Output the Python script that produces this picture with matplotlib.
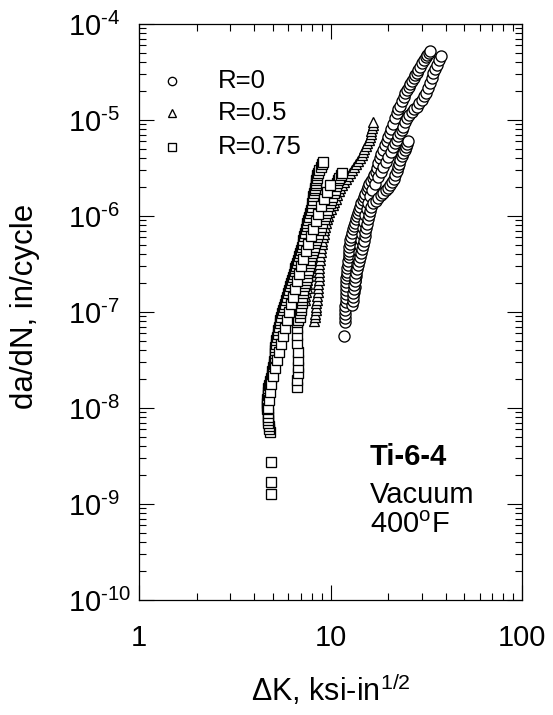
import numpy as np
import matplotlib
matplotlib.use("Agg")
import matplotlib.pyplot as plt
from matplotlib.ticker import FuncFormatter, LogLocator

plt.rcParams["font.family"] = ["Liberation Sans", "DejaVu Sans"]
plt.rcParams["mathtext.fontset"] = "custom"
plt.rcParams["mathtext.rm"] = "Liberation Sans"
plt.rcParams["mathtext.it"] = "Liberation Sans:italic"
plt.rcParams["mathtext.bf"] = "Liberation Sans:bold"

# ---- R = 0 (circles), three specimens ----
dk_r0_a = [11.76, 11.90, 11.88, 11.90, 11.93, 11.90, 11.98, 12.05, 12.02, 12.05, 12.08, 12.05,
           12.12, 12.20, 12.16, 12.20, 12.28, 12.34, 12.42, 12.49, 12.45, 12.49, 12.58, 12.64,
           12.80, 12.95, 13.10, 13.27, 13.42, 13.59, 13.75, 13.92, 14.10, 14.26, 14.50, 14.78,
           14.95, 15.14, 15.42, 15.70, 15.98, 16.27, 16.57, 16.87, 17.18, 17.49, 17.80, 18.14,
           18.45, 18.80, 19.25, 19.72, 20.08, 20.45, 20.82, 21.21, 21.72, 22.25, 22.65, 23.07,
           23.62, 24.20, 24.63, 25.09, 25.55, 26.01, 26.65, 27.29, 27.78, 28.30, 28.80, 29.34,
           30.05, 30.78, 31.34, 31.91, 32.50, 33.08]
da_r0_a = [5.6e-8, 7.9e-8, 8.7e-8, 9.5e-8, 1.05e-7, 1.16e-7, 1.28e-7, 1.40e-7, 1.54e-7, 1.69e-7,
           1.87e-7, 2.05e-7, 2.24e-7, 2.43e-7, 2.64e-7, 2.87e-7, 3.12e-7, 3.40e-7, 3.70e-7, 4.02e-7,
           4.37e-7, 4.75e-7, 5.17e-7, 5.62e-7, 6.10e-7, 6.65e-7, 7.25e-7, 7.87e-7, 8.55e-7, 9.31e-7,
           1.00e-6, 1.07e-6, 1.15e-6, 1.24e-6, 1.35e-6, 1.47e-6, 1.58e-6, 1.69e-6, 1.85e-6, 2.01e-6,
           2.16e-6, 2.32e-6, 2.50e-6, 2.67e-6, 2.90e-6, 3.16e-6, 3.55e-6, 4.02e-6, 4.42e-6, 4.87e-6,
           5.45e-6, 6.04e-6, 6.65e-6, 7.33e-6, 8.15e-6, 9.08e-6, 1.04e-5, 1.18e-5, 1.29e-5, 1.40e-5,
           1.56e-5, 1.74e-5, 1.89e-5, 2.05e-5, 2.21e-5, 2.37e-5, 2.55e-5, 2.74e-5, 2.91e-5, 3.09e-5,
           3.32e-5, 3.56e-5, 3.88e-5, 4.22e-5, 4.48e-5, 4.75e-5, 5.00e-5, 5.23e-5]

dk_r0_b = [12.95, 13.03, 13.11, 13.27, 13.43, 13.50, 13.59, 13.67, 13.75, 13.92, 14.09, 14.26,
           14.43, 14.60, 14.78, 14.96, 15.14, 15.42, 15.70, 16.08, 16.47, 17.08, 17.70, 18.25,
           18.80, 19.38, 19.96, 20.58, 21.21, 21.72, 22.25, 22.65, 23.07, 23.50, 23.91, 24.49,
           25.09, 25.85, 26.65, 27.45, 28.30, 29.15, 30.05, 30.78, 31.53, 32.30, 33.08, 33.70,
           34.30, 35.12, 35.98, 36.90, 37.80]
da_r0_b = [1.18e-7, 1.30e-7, 1.43e-7, 1.62e-7, 1.82e-7, 2.08e-7, 2.37e-7, 2.74e-7, 3.16e-7, 3.65e-7,
           4.22e-7, 4.87e-7, 5.62e-7, 6.50e-7, 7.50e-7, 8.75e-7, 1.02e-6, 1.18e-6, 1.37e-6, 1.60e-6,
           1.87e-6, 2.18e-6, 2.55e-6, 2.87e-6, 3.24e-6, 3.65e-6, 4.12e-6, 4.64e-6, 5.23e-6, 5.70e-6,
           6.19e-6, 6.75e-6, 7.33e-6, 7.87e-6, 8.45e-6, 9.45e-6, 1.05e-5, 1.13e-5, 1.21e-5, 1.29e-5,
           1.37e-5, 1.49e-5, 1.62e-5, 1.76e-5, 1.91e-5, 2.15e-5, 2.43e-5, 2.75e-5, 3.09e-5, 3.40e-5,
           3.74e-5, 4.20e-5, 4.64e-5]

dk_r0_c = [13.11, 13.19, 13.27, 13.35, 13.43, 13.59, 13.75, 13.92, 14.09, 14.26, 14.43, 14.60,
           14.78, 14.96, 15.14, 15.23, 15.32, 15.50, 15.70, 15.89, 16.08, 16.37, 16.67, 17.18,
           17.70, 18.25, 18.80, 19.38, 19.96, 20.45, 20.95, 21.33, 21.72, 22.12, 22.52, 22.80,
           23.07, 23.50, 23.91, 24.35, 24.79, 25.09, 25.39]
da_r0_c = [1.58e-7, 1.74e-7, 1.91e-7, 2.10e-7, 2.32e-7, 2.55e-7, 2.81e-7, 3.09e-7, 3.40e-7, 3.75e-7,
           4.12e-7, 4.55e-7, 4.99e-7, 5.55e-7, 6.19e-7, 6.80e-7, 7.50e-7, 8.35e-7, 9.31e-7, 1.03e-6,
           1.13e-6, 1.25e-6, 1.37e-6, 1.45e-6, 1.54e-6, 1.64e-6, 1.74e-6, 1.85e-6, 1.96e-6, 2.10e-6,
           2.26e-6, 2.45e-6, 2.67e-6, 2.95e-6, 3.24e-6, 3.52e-6, 3.83e-6, 4.17e-6, 4.53e-6, 4.87e-6,
           5.23e-6, 5.62e-6, 6.04e-6]

# ---- R = 0.5 (triangles), two specimens ----
dk_r05_a = [8.20, 8.25, 8.30, 8.35, 8.40, 8.45, 8.50, 8.55, 8.61, 8.58, 8.61, 8.66, 8.71, 8.68,
            8.71, 8.76, 8.81, 8.86, 8.92, 8.97, 9.03, 9.08, 9.14, 9.20, 9.25, 9.36, 9.47, 9.58,
            9.70, 9.88, 10.06, 10.25, 10.43, 10.62, 10.81, 11.01, 11.21, 11.48, 11.76, 12.05,
            12.34, 12.64, 12.95, 13.27, 13.59, 13.92, 14.26, 14.52, 14.78, 15.05, 15.32, 15.60,
            15.89, 16.08, 16.27, 16.37, 16.47, 16.57, 16.67]
da_r05_a = [8.1e-8, 8.8e-8, 9.5e-8, 1.04e-7, 1.13e-7, 1.23e-7, 1.33e-7, 1.47e-7, 1.62e-7, 1.78e-7,
            1.96e-7, 2.15e-7, 2.37e-7, 2.61e-7, 2.87e-7, 3.16e-7, 3.48e-7, 3.83e-7, 4.22e-7, 4.65e-7,
            5.11e-7, 5.55e-7, 6.04e-7, 6.55e-7, 7.14e-7, 7.75e-7, 8.45e-7, 9.20e-7, 1.00e-6, 1.09e-6,
            1.18e-6, 1.29e-6, 1.40e-6, 1.52e-6, 1.66e-6, 1.80e-6, 1.96e-6, 2.10e-6, 2.26e-6, 2.43e-6,
            2.61e-6, 2.80e-6, 3.01e-6, 3.24e-6, 3.48e-6, 3.74e-6, 4.02e-6, 4.32e-6, 4.64e-6, 4.99e-6,
            5.36e-6, 5.75e-6, 6.19e-6, 6.65e-6, 7.15e-6, 7.70e-6, 8.25e-6, 8.85e-6, 9.50e-6]

dk_r05_b = [7.36, 7.40, 7.45, 7.50, 7.54, 7.58, 7.63, 7.68, 7.72, 7.82, 7.91, 8.01, 8.10, 8.20,
            8.30, 8.40, 8.50, 8.61, 8.71, 8.81, 8.92, 9.08, 9.25, 9.42, 9.59, 9.76, 9.94, 10.12,
            10.30, 10.49, 10.68, 10.94, 11.21]
da_r05_b = [1.33e-7, 1.47e-7, 1.62e-7, 1.78e-7, 1.96e-7, 2.15e-7, 2.37e-7, 2.61e-7, 2.87e-7, 3.16e-7,
            3.48e-7, 3.83e-7, 4.22e-7, 4.65e-7, 5.11e-7, 5.65e-7, 6.20e-7, 6.80e-7, 7.50e-7, 8.25e-7,
            9.10e-7, 1.00e-6, 1.10e-6, 1.20e-6, 1.30e-6, 1.43e-6, 1.57e-6, 1.72e-6, 1.87e-6, 2.03e-6,
            2.20e-6, 2.37e-6, 2.55e-6]

# ---- R = 0.75 (squares), three specimens ----
dk_r075_a = [4.89, 4.89, 4.89, 4.83, 4.80, 4.77, 4.74, 4.72, 4.70, 4.72, 4.68, 4.66, 4.64, 4.66,
             4.69, 4.72, 4.74, 4.77, 4.83, 4.89, 4.92, 4.95, 5.01, 5.07, 5.10, 5.13, 5.11, 5.13,
             5.16, 5.19, 5.22, 5.26, 5.29, 5.32, 5.38, 5.45, 5.48, 5.51, 5.58, 5.65, 5.72, 5.79,
             5.86, 5.93, 6.00, 6.07, 6.15, 6.22, 6.30, 6.37, 6.45, 6.53, 6.56, 6.60, 6.68, 6.77,
             6.85, 6.93, 7.01, 7.10, 7.15, 7.19, 7.28, 7.36, 7.45, 7.54, 7.58, 7.63, 7.72, 7.82,
             7.92, 8.01, 8.05, 8.10, 8.15, 8.20, 8.25, 8.30, 8.35, 8.40, 8.45, 8.50, 8.55, 8.61,
             8.76, 8.92, 9.03, 9.14]
da_r075_a = [1.27e-9, 1.69e-9, 2.74e-9, 5.62e-9, 6.05e-9, 6.49e-9, 7.0e-9, 7.5e-9, 8.15e-9,
             8.87e-9, 9.65e-9, 1.05e-8, 1.14e-8, 1.24e-8, 1.35e-8, 1.47e-8, 1.60e-8, 1.74e-8,
             1.89e-8, 2.05e-8, 2.23e-8, 2.43e-8, 2.65e-8, 2.87e-8, 3.12e-8, 3.40e-8, 3.70e-8,
             4.02e-8, 4.32e-8, 4.64e-8, 5.05e-8, 5.49e-8, 5.97e-8, 6.49e-8, 7.05e-8, 7.67e-8,
             8.25e-8, 8.87e-8, 9.65e-8, 1.05e-7, 1.13e-7, 1.21e-7, 1.32e-7, 1.43e-7, 1.56e-7,
             1.69e-7, 1.85e-7, 2.01e-7, 2.16e-7, 2.32e-7, 2.49e-7, 2.67e-7, 2.84e-7, 3.01e-7,
             3.24e-7, 3.48e-7, 3.79e-7, 4.12e-7, 4.42e-7, 4.75e-7, 5.17e-7, 5.62e-7, 6.12e-7,
             6.65e-7, 7.25e-7, 7.87e-7, 8.45e-7, 9.08e-7, 9.85e-7, 1.07e-6, 1.15e-6, 1.24e-6,
             1.35e-6, 1.47e-6, 1.60e-6, 1.74e-6, 1.85e-6, 1.96e-6, 2.08e-6, 2.21e-6, 2.35e-6,
             2.49e-6, 2.65e-6, 2.81e-6, 3.02e-6, 3.24e-6, 3.45e-6, 3.65e-6]

dk_r075_b = [6.69, 6.72, 6.77, 6.77, 6.75, 6.77, 6.69, 6.72, 6.69, 6.69, 6.80, 6.93, 6.97, 7.01,
             7.05, 7.10, 7.08, 7.10, 7.15, 7.19, 7.28, 7.36, 7.45, 7.54, 7.58, 7.63, 7.72, 7.82,
             7.86, 7.91, 8.01, 8.10, 8.20, 8.30, 8.40, 8.50, 8.65, 8.81, 8.92, 9.03, 9.20, 9.36,
             9.47, 9.59, 9.76, 9.94, 10.06, 10.18, 10.37, 10.56, 10.68, 10.81, 10.94, 11.08,
             11.28, 11.48]
da_r075_b = [1.66e-8, 1.95e-8, 2.32e-8, 2.67e-8, 3.20e-8, 3.83e-8, 4.75e-8, 5.70e-8, 6.81e-8,
             7.87e-8, 8.35e-8, 8.87e-8, 9.65e-8, 1.05e-7, 1.14e-7, 1.24e-7, 1.33e-7, 1.43e-7,
             1.56e-7, 1.69e-7, 1.85e-7, 2.01e-7, 2.16e-7, 2.32e-7, 2.52e-7, 2.74e-7, 2.98e-7,
             3.24e-7, 3.52e-7, 3.83e-7, 4.12e-7, 4.42e-7, 4.80e-7, 5.23e-7, 5.62e-7, 6.04e-7,
             6.55e-7, 7.14e-7, 7.75e-7, 8.45e-7, 9.20e-7, 1.00e-6, 1.07e-6, 1.15e-6, 1.26e-6,
             1.37e-6, 1.47e-6, 1.58e-6, 1.72e-6, 1.87e-6, 2.03e-6, 2.21e-6, 2.35e-6, 2.49e-6,
             2.65e-6, 2.81e-6]

dk_r075_c = [4.72, 4.77, 4.83, 4.89, 5.01, 5.13, 5.26, 5.38, 5.51, 5.65, 5.79, 5.93, 6.07, 6.22,
             6.37, 6.53, 6.69, 6.85, 7.01, 7.19, 7.45, 7.63, 7.91, 8.10, 8.40, 8.61, 8.92, 9.25,
             9.59, 9.94]
da_r075_c = [1.0e-8, 1.21e-8, 1.47e-8, 1.78e-8, 2.15e-8, 2.61e-8, 3.16e-8, 3.83e-8, 4.64e-8,
             5.62e-8, 6.81e-8, 8.25e-8, 1.0e-7, 1.21e-7, 1.43e-7, 1.74e-7, 2.10e-7, 2.49e-7,
             3.01e-7, 3.56e-7, 4.32e-7, 5.11e-7, 6.19e-7, 7.33e-7, 8.87e-7, 1.05e-6, 1.27e-6,
             1.50e-6, 1.78e-6, 2.10e-6]

r_labels = ["R=0", "R=0.5", "R=0.75"]

fig = plt.figure(figsize=(5.53, 7.15), dpi=100)
ax = fig.add_axes([139 / 553, 115 / 715, 383 / 553, 576 / 715])

open_mk = dict(linestyle="none", markerfacecolor="white", markeredgecolor="black",
               markeredgewidth=0.95)
for dk, da in [(dk_r0_a, da_r0_a), (dk_r0_b, da_r0_b), (dk_r0_c, da_r0_c)]:
    ax.plot(dk, da, marker="o", markersize=8.0, **open_mk)
for dk, da in [(dk_r05_a, da_r05_a), (dk_r05_b, da_r05_b)]:
    ax.plot(dk, da, marker="^", markersize=7.5, **open_mk)
for dk, da in [(dk_r075_a, da_r075_a), (dk_r075_b, da_r075_b), (dk_r075_c, da_r075_c)]:
    ax.plot(dk, da, marker="s", markersize=6.6, **open_mk)

ax.set_xscale("log")
ax.set_yscale("log")
ax.set_xlim(1, 100)
ax.set_ylim(1e-10, 1e-4)

ax.xaxis.set_major_locator(LogLocator(base=10, numticks=20))
ax.xaxis.set_minor_locator(LogLocator(base=10, subs=np.arange(2, 10), numticks=20))
ax.yaxis.set_major_locator(LogLocator(base=10, numticks=20))
ax.yaxis.set_minor_locator(LogLocator(base=10, subs=np.arange(2, 10), numticks=20))
ax.xaxis.set_major_formatter(FuncFormatter(lambda v, pos: "%g" % v))
ax.yaxis.set_major_formatter(FuncFormatter(
    lambda v, pos: r"$\mathregular{10}^{\text{-%d}}$" % round(-np.log10(v))))

ax.tick_params(which="both", direction="in", top=True, right=True, width=0.8)
ax.tick_params(which="major", length=10.8)
ax.tick_params(which="minor", length=5.0)
ax.tick_params(axis="x", labelsize=21, pad=17)
ax.tick_params(axis="y", labelsize=21, pad=51)
plt.setp(ax.yaxis.get_majorticklabels(), ha="left")
for s in ax.spines.values():
    s.set_linewidth(0.9)

ax.set_xlabel("\u0394K, ksi-in$^{1/2}$", fontsize=22)
ax.xaxis.set_label_coords(0.5, -0.125)
ax.set_ylabel("da/dN, in/cycle", fontsize=22.5)
ax.yaxis.set_label_coords(-0.258, 0.51)

# key
for mk, ms, lab, yy in zip(["o", "^", "s"], [6.0, 6.0, 5.4], r_labels, [0.901, 0.845, 0.786]):
    ax.plot([0.086], [yy], transform=ax.transAxes, marker=mk, markersize=ms, **open_mk)
    ax.text(0.206, yy, lab, transform=ax.transAxes, fontsize=18.5, va="center")

ax.text(0.603, 0.234, "Ti-6-4", transform=ax.transAxes, fontsize=21, fontweight="bold",
        va="baseline")
ax.text(0.603, 0.168, "Vacuum", transform=ax.transAxes, fontsize=21, va="baseline")
ax.text(0.603, 0.116, r"400$^{\mathregular{o}}$F", transform=ax.transAxes, fontsize=21,
        va="baseline")

fig.savefig("out.png", dpi=100)
